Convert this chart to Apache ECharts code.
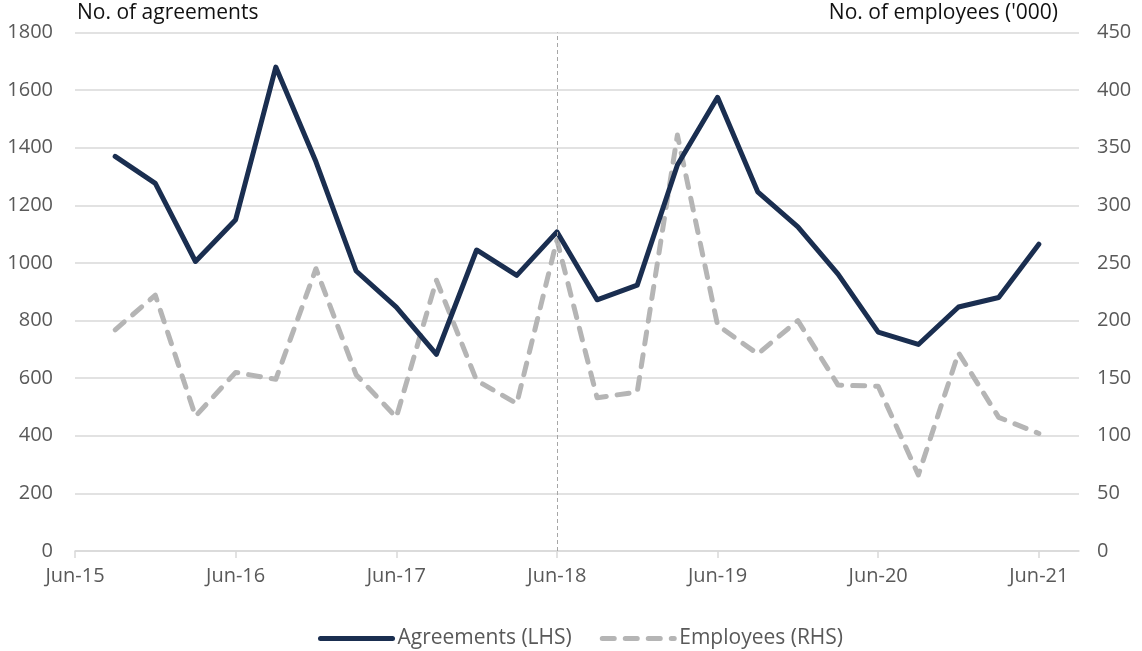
<!DOCTYPE html>
<html>
<head>
<meta charset="utf-8">
<script src="https://cdn.jsdelivr.net/npm/echarts@6/dist/echarts.min.js"></script>
<style>
html,body{margin:0;padding:0;background:#fff;}
#chart{width:1142px;height:651px;}
</style>
</head>
<body>
<div id="chart"></div>
<script>
// ---- data ----
const quarters = ['Sep-15','Dec-15','Mar-16','Jun-16','Sep-16','Dec-16','Mar-17','Jun-17','Sep-17','Dec-17','Mar-18','Jun-18',
                  'Sep-18','Dec-18','Mar-19','Jun-19','Sep-19','Dec-19','Mar-20','Jun-20','Sep-20','Dec-20','Mar-21','Jun-21'];
const agreements = [1370,1276,1005,1150,1680,1351,972,847,683,1045,957,1108,872,923,1340,1575,1247,1125,961,760,717,847,880,1065];
const employees  = [192,222,117,155,149,245,153,116,235,148,128,270,133,138,361,196,171,200,144,143,66,172,116,102];
const xTickLabels = ['Jun-15','Jun-16','Jun-17','Jun-18','Jun-19','Jun-20','Jun-21'];
const xAxisEnd = 'Sep-21';
const dividerDate = 'Jun-18';
const leftTitle = 'No. of agreements';
const rightTitle = "No. of employees ('000)";
const seriesNames = ['Agreements (LHS)', 'Employees (RHS)'];

// ---- helpers ----
const MONTHS = {Jan:1,Feb:2,Mar:3,Apr:4,May:5,Jun:6,Jul:7,Aug:8,Sep:9,Oct:10,Nov:11,Dec:12};
function monthIndex(label){ // months since Jun-15
  const [m, y] = label.split('-');
  return (parseInt(y,10) - 15) * 12 + (MONTHS[m] - 6);
}
const tickValues = xTickLabels.map(monthIndex);
const FONT = '"Open Sans", "Noto Sans", sans-serif';
const NAVY = '#1a2e50';
const GREY = '#b5b5b5';

const chart = echarts.init(document.getElementById('chart'), null, {renderer: 'canvas'});
chart.setOption({
  animation: false,
  backgroundColor: '#ffffff',
  textStyle: {fontFamily: FONT},
  grid: {left: 75, right: 63, top: 32.5, bottom: 100, containLabel: false},
  graphic: [
    {type: 'text', left: 77, top: 3, style: {text: leftTitle, font: '21px ' + FONT, fill: '#111111'}},
    {type: 'text', right: 84, top: 3, style: {text: rightTitle, font: '21px ' + FONT, fill: '#111111'}}
  ],
  legend: {
    left: 313, top: 623,
    itemWidth: 72, itemHeight: 14, itemGap: 28,
    itemStyle: {opacity: 0},
    lineStyle: {width: 5, cap: 'round'},
    textStyle: {fontFamily: FONT, fontSize: 21, color: '#595959'},
    data: seriesNames
  },
  xAxis: {
    type: 'value', min: 0, max: monthIndex(xAxisEnd),
    axisLine: {show: true, lineStyle: {color: '#d9d9d9', width: 1.5}},
    axisTick: {show: true, length: 7, customValues: tickValues, lineStyle: {color: '#d9d9d9', width: 1.5}},
    axisLabel: {
      customValues: tickValues, margin: 15,
      fontFamily: FONT, fontSize: 20, color: '#595959',
      formatter: v => xTickLabels[tickValues.indexOf(v)] || ''
    },
    splitLine: {show: false}
  },
  yAxis: [
    {
      type: 'value', min: 0, max: 1800, interval: 200, position: 'left',
      axisLine: {show: false}, axisTick: {show: false},
      axisLabel: {margin: 22, fontFamily: FONT, fontSize: 20, color: '#595959', formatter: v => String(v)},
      splitLine: {show: true, lineStyle: {color: '#d9d9d9', width: 1.5}}
    },
    {
      type: 'value', min: 0, max: 450, interval: 50, position: 'right',
      axisLine: {show: false}, axisTick: {show: false},
      axisLabel: {margin: 18, fontFamily: FONT, fontSize: 20, color: '#595959', formatter: v => String(v)},
      splitLine: {show: false}
    }
  ],
  series: [
    {
      name: seriesNames[0], type: 'line', yAxisIndex: 0, z: 4,
      data: quarters.map((q, i) => [monthIndex(q), agreements[i]]),
      symbol: 'none', showSymbol: false,
      lineStyle: {color: NAVY, width: 5, cap: 'round', join: 'round'},
      itemStyle: {color: NAVY},
      markLine: {
        silent: true, symbol: 'none', label: {show: false},
        lineStyle: {color: '#a6a6a6', width: 1, type: [4, 3]},
        data: [{xAxis: monthIndex(dividerDate)}]
      }
    },
    {
      name: seriesNames[1], type: 'line', yAxisIndex: 1, z: 3,
      data: quarters.map((q, i) => [monthIndex(q), employees[i]]),
      symbol: 'none', showSymbol: false,
      lineStyle: {color: GREY, width: 5, type: [12, 11], cap: 'round', join: 'round'},
      itemStyle: {color: GREY}
    }
  ]
});
</script>
</body>
</html>
